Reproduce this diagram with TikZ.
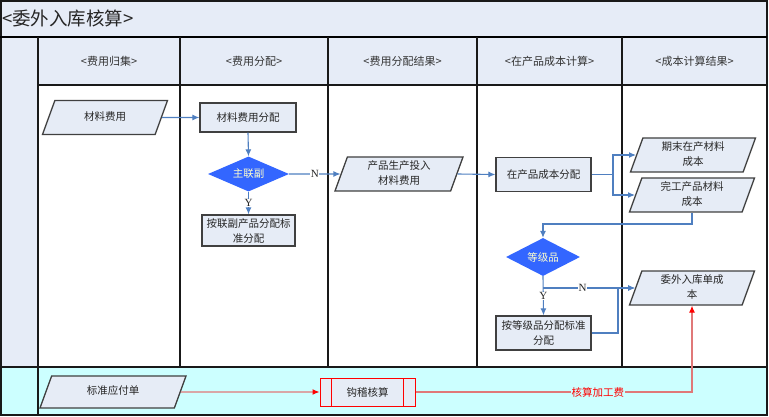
\documentclass[tikz,border=0pt]{standalone}
\usepackage{fontspec}
\setmainfont{Liberation Serif}
\newfontfamily\cjk{Noto Sans CJK SC}
\usetikzlibrary{shapes.geometric,arrows.meta,calc}
\definecolor{lanebg}{HTML}{E6ECF7}
\definecolor{nodebg}{HTML}{E6ECF6}
\definecolor{cyanbg}{HTML}{CCFFFF}
\definecolor{dblue}{HTML}{3366FF}
\definecolor{lblue}{HTML}{4F7FC0}
\definecolor{pred}{HTML}{E07878}
\definecolor{bdr}{HTML}{404040}
\definecolor{dtext}{HTML}{FFFFCC}
\begin{document}
\begin{tikzpicture}[x=1pt,y=-1pt,
  every node/.style={font=\cjk\fontsize{10.5}{15}\selectfont, text=black!85},
  procbox/.style={draw=bdr, line width=1.3pt, fill=nodebg, align=center, inner sep=0pt, minimum width=95pt, minimum height=31pt},
  databox/.style={trapezium, trapezium left angle=70, trapezium right angle=110, trapezium stretches body, draw=bdr, line width=1.3pt, fill=nodebg, align=center, inner xsep=0pt, inner ysep=12.25pt, text height=7.5pt, text depth=2pt, minimum width=125pt, minimum height=34pt},
  databoxtwo/.style={databox, inner ysep=4.75pt, text height=22.5pt, text depth=2pt},
  decide/.style={diamond, fill=dblue, text=dtext, aspect=2.3, inner sep=0pt, minimum width=81pt, minimum height=35pt},
  hdr/.style={font=\cjk\fontsize{11}{13}\selectfont, text=black!80},
  yn/.style={font=\rmfamily\fontsize{11}{12}\selectfont, fill=white, inner sep=0.5pt, text=black!85},
  arr/.style={draw=lblue, line width=1.1pt, -{Latex[length=7pt,width=6pt]}},
  redarr/.style={draw=pred, line width=1.1pt, -{Latex[length=7pt,width=6pt,fill=red,color=red]}},
  lanelines/.style={draw=black!90, line width=1.4pt}
]
\useasboundingbox (0,0) rectangle (769,417);
% backgrounds
\fill[lanebg] (0,0) rectangle (767,37);
\fill[lanebg] (0,37) rectangle (38,367);
\fill[lanebg] (38,37) rectangle (767,85);
\fill[cyanbg] (0,367) rectangle (767,415);
% lines
\draw[lanelines] (1,1) rectangle (767,415);
\draw[draw=black, line width=2pt] (0,37) -- (767,37);
\draw[lanelines] (38,85) -- (767,85);
\draw[lanelines] (0,367) -- (767,367);
\draw[lanelines] (38,37) -- (38,415);
\foreach \x in {180,328,477,622} \draw[lanelines] (\x,37) -- (\x,367);
% title and headers
\node[anchor=west, inner sep=0pt, font=\cjk\fontsize{18.5}{20}\selectfont] (title) at (2,18) {<委外入库核算>};
\node[hdr] (h1) at (109,61) {<费用归集>};
\node[hdr] (h2) at (254,61) {<费用分配>};
\node[hdr] (h3) at (402.5,61) {<费用分配结果>};
\node[hdr] (h4) at (549.5,61) {<在产品成本计算>};
\node[hdr] (h5) at (694.5,61) {<成本计算结果>};
% nodes
\node[databox] (cl) at (105,117.5) {材料费用};
\node[procbox, minimum width=96pt, minimum height=29pt] (cf) at (248,117.5) {材料费用分配};
\node[decide] (d1) at (248.5,174) {主联副};
\node[procbox, minimum width=93pt] (b1) at (248.5,230.5) {按联副产品分配标\\准分配};
\node[databoxtwo, minimum width=128pt] (p1) at (399,174) {产品生产投入\\材料费用};
\node[procbox, minimum height=34pt] (r2) at (543.5,174.5) {在产品成本分配};
\node[databoxtwo] (q1) at (693,155) {期末在产材料\\成本};
\node[databoxtwo] (q2) at (692,195) {完工产品材料\\成本};
\node[decide, minimum width=74pt, minimum height=38pt] (d2) at (543,257) {等级品};
\node[procbox, minimum height=34pt] (b2) at (543.5,333) {按等级品分配标准\\分配};
\node[databoxtwo] (q3) at (692,288) {委外入库单成\\本};
\node[databox, minimum width=146pt, minimum height=32pt, inner ysep=11.25pt] (s1) at (113,392) {标准应付单};
\node[draw=red, line width=1pt, fill=nodebg, inner sep=0pt, minimum width=95pt, minimum height=28pt,
  path picture={\draw[red, line width=1pt] ([xshift=11.5pt]path picture bounding box.north west) -- ([xshift=11.5pt]path picture bounding box.south west);
                \draw[red, line width=1pt] ([xshift=-11.5pt]path picture bounding box.north east) -- ([xshift=-11.5pt]path picture bounding box.south east);}
  ] (s2) at (367.5,392) {钩稽核算};
% connectors
\draw[arr] (cl.east) -- (cf.west);
\draw[arr] (cf.south) -- (d1.north);
\draw[arr] (d1.south) -- node[yn] {Y} (b1.north);
\draw[arr] (d1.east) -- node[yn] {N} (p1.west);
\draw[arr] (p1.east) -- (r2.west);
\coordinate (j1) at (613,174.5);
\draw[arr] (r2.east) -- (j1) |- (q1.west);
\draw[arr] (j1) |- (q2.west);
\coordinate (j3) at (692,224);
\draw[arr] (q2.center |- q2.south) -- (j3) -| (d2.north);
\draw[arr] (d2.south) -- node[yn] {Y} (b2.north);
\draw[arr] (d2.south |- q3.west) -- node[yn, pos=0.43] {N} (q3.west);
\coordinate (j4) at (618,333);
\draw[arr] (b2.east) -- (j4) |- (q3.west);
\draw[redarr] (s1.east) -- (s2.west);
\coordinate (j5) at (692,392);
\draw[redarr] (s2.east) -- node[pos=0.66, fill=cyanbg, inner sep=1pt, text=red, font=\cjk\fontsize{10.5}{12}\selectfont] {核算加工费} (j5) -- (q3.center |- q3.south);
\end{tikzpicture}
\end{document}
